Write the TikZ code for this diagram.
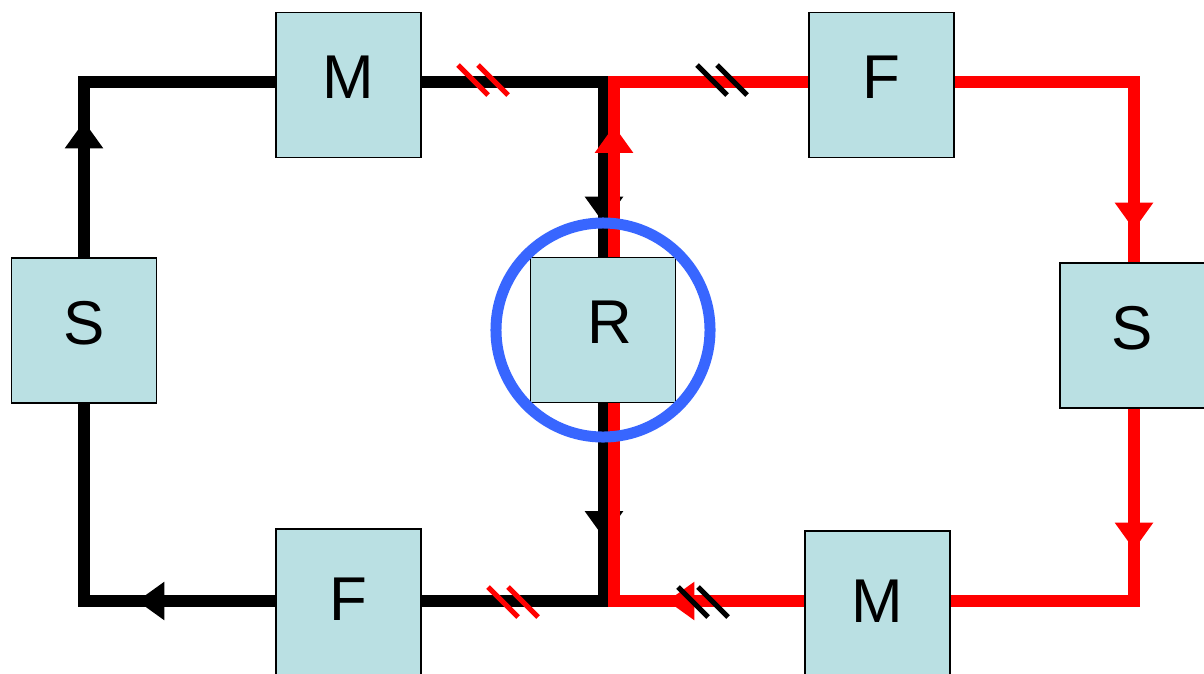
\documentclass[tikz,border=0pt]{standalone}
\usepackage{fontspec}
\setmainfont{Liberation Sans}
\usetikzlibrary{calc,arrows.meta,decorations.markings}
\definecolor{boxfill}{RGB}{186,224,227}
\definecolor{ringblue}{RGB}{56,102,255}
\definecolor{loopred}{RGB}{255,0,0}

\begin{document}
\begin{tikzpicture}[x=0.025cm, y=-0.025cm,
  stage/.style={draw=black, line width=1pt, fill=boxfill, minimum size=3.625cm,
    inner sep=0pt, font=\fontsize{44}{50}\selectfont, text depth=0.4cm},
  flow/.style={line width=0.3cm},
  tipat/.style={postaction={decorate, decoration={markings,
    mark=at position #1 with {\arrow{Triangle[length=0.68cm, width=0.92cm]}}}}},
  hatch/.style={line width=0.125cm},
]
  \clip (0,0) rectangle (1204,673);
  \fill[white] (0,0) rectangle (1204,673);
  \node[stage] (mt) at (348.5,85) {M};
  \node[stage] (ft) at (881.5,85) {F};
  \node[stage] (sl) at (84,330.5) {S};
  \node[stage] (r) at (603,330) {\hspace*{0.35cm}R};
  \node[stage] (sr) at (1132.5,335.5) {S};
  \node[stage, minimum height=3.9cm] (fb) at (348.5,607) {F};
  \node[stage, minimum height=3.9cm] (mb) at (877.5,609) {M};
  \coordinate (tl) at (84,82);
  \coordinate (bl) at (84,601);
  \coordinate (tjb) at (604,82);
  \coordinate (bjb) at (604,601);
  \coordinate (tjr) at (614,82);
  \coordinate (bjr) at (614,601);
  \coordinate (tr) at (1134,82);
  \coordinate (br) at (1134,601);

  \draw[flow, tipat=3.4cm] (sl.north) -- (tl) -- (tl -| mt.west);
  \draw[flow, tipat=8.1cm] (tl -| mt.east) -- (tjb) -- (tjb |- r.north);
  \draw[flow, tipat=3.375cm] (tjb |- r.south) -- (bjb) -- (bjb -| fb.east);
  \draw[flow, tipat=3.45cm] (bjb -| fb.west) -- (bl) -- (sl.south);

  \draw[flow, loopred, tipat=3.275cm] (tjr |- r.north) -- (tjr) -- (tjr -| ft.west);
  \draw[flow, loopred, tipat=8.175cm] (tjr -| ft.east) -- (tr) -- (tr |- sr.north);
  \draw[flow, loopred, tipat=3.525cm] (tr |- sr.south) -- (br) -- (br -| mb.east);
  \draw[flow, loopred, tipat=3.425cm] (br -| mb.west) -- (bjr) -- (tjr |- r.south);

  \foreach \cx/\cy/\hc in {483/80/loopred, 722/80/black, 513/602/loopred, 703/602/black}
    \foreach \dx in {-10,10}
      \draw[hatch, \hc] ({\cx+\dx-15},{\cy-15}) -- ({\cx+\dx+15},{\cy+15});

  \draw[ringblue, line width=0.275cm] (r.center) circle[radius=2.675cm];
\end{tikzpicture}
\end{document}
